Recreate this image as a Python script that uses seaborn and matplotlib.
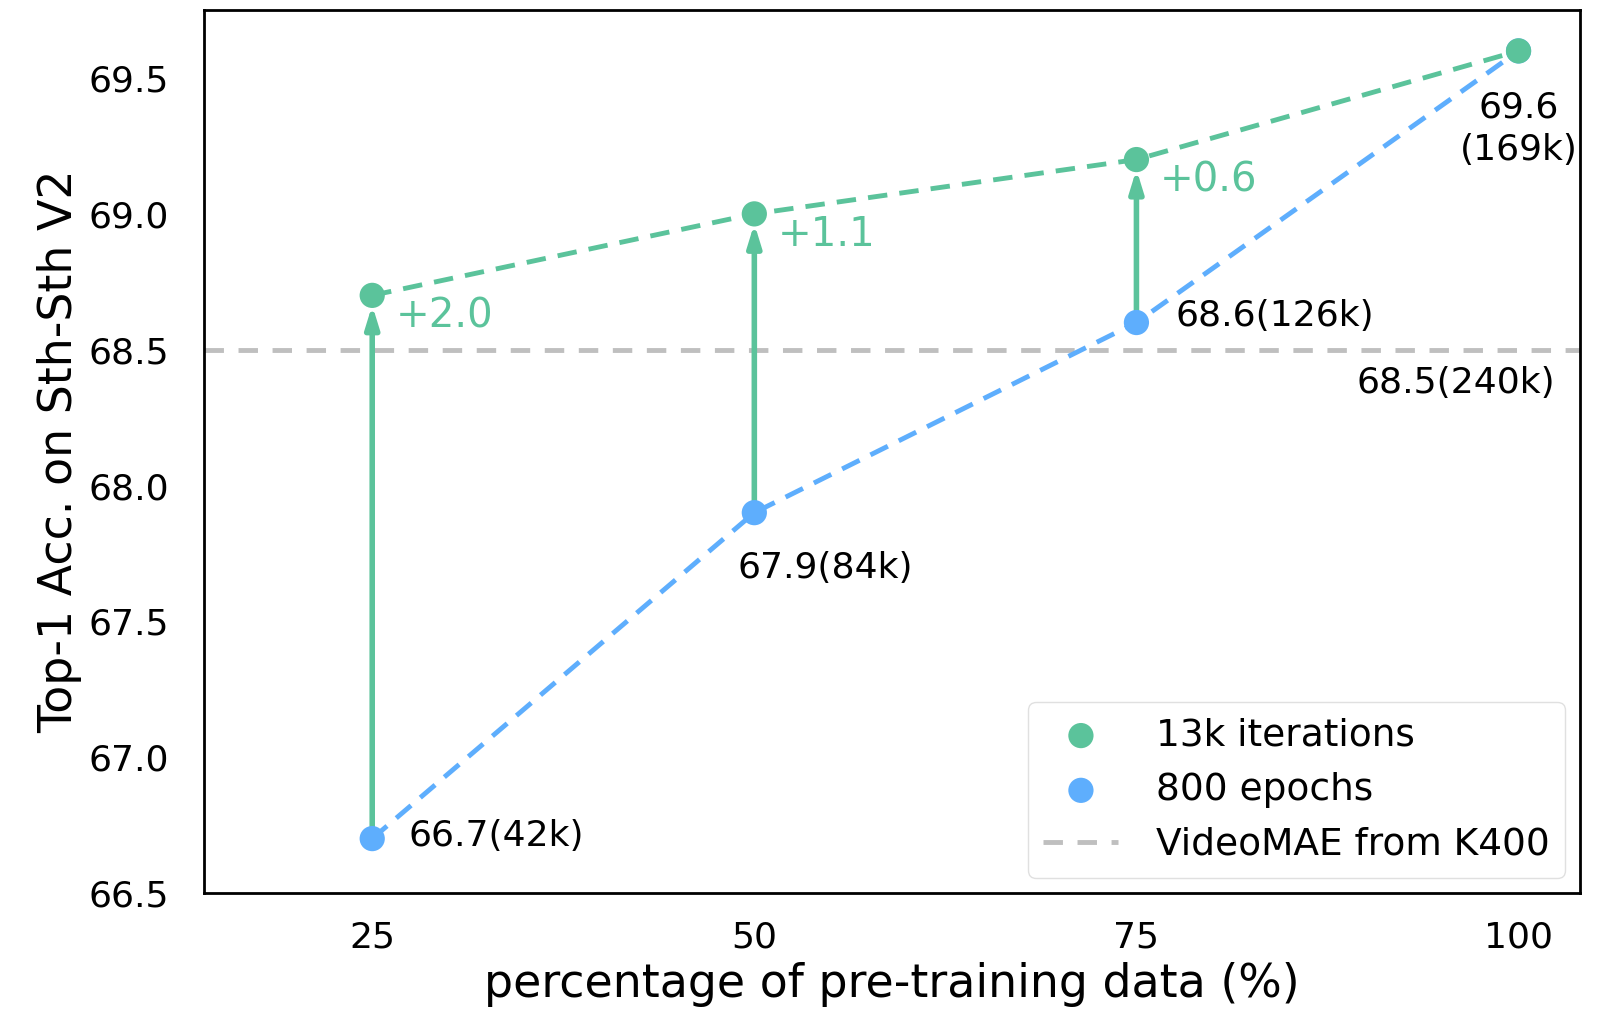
import matplotlib
matplotlib.use('Agg')
import matplotlib.pyplot as plt
import seaborn as sns
import pandas as pd

# data
pct = [25, 50, 75, 100]
acc_13k = [68.7, 69.0, 69.2, 69.6]
acc_800 = [66.7, 67.9, 68.6, 69.6]
iters_800 = ['42k', '84k', '126k', '169k']
gains = ['+2.0', '+1.1', '+0.6']
baseline = 68.5
baseline_label = '68.5(240k)'

green = '#5BC39B'
blue = '#5EAEFD'
grey = '#BFBFBF'

df_13k = pd.DataFrame({'pct': pct, 'acc': acc_13k})
df_800 = pd.DataFrame({'pct': pct, 'acc': acc_800})

sns.set_style('white')
plt.rcParams['font.family'] = ['DejaVu Sans']
plt.rcParams['text.color'] = 'black'
plt.rcParams['axes.labelcolor'] = 'black'
plt.rcParams['xtick.color'] = 'black'
plt.rcParams['ytick.color'] = 'black'

fig, ax = plt.subplots(figsize=(16.07, 10.17), dpi=100)

# baseline
ax.axhline(baseline, color=grey, ls='--', lw=3.5, dashes=(4, 3), label='VideoMAE from K400', zorder=1)

# dashed connecting lines
sns.lineplot(data=df_800, x='pct', y='acc', color=blue, linestyle='--', lw=3.5, ax=ax, zorder=2)
sns.lineplot(data=df_13k, x='pct', y='acc', color=green, linestyle='--', lw=3.5, ax=ax, zorder=2)
for l in ax.lines[1:]:
    l.set_dashes((4, 2.5))

# arrows from 800-epoch result to 13k-iteration result
for x, y0, y1 in zip(pct[:3], acc_800[:3], acc_13k[:3]):
    ax.annotate('', xy=(x, y1), xytext=(x, y0),
                arrowprops=dict(arrowstyle='-|>,head_length=1.3,head_width=0.4',
                                color=green, lw=4, shrinkA=0, shrinkB=7),
                zorder=3)

sns.scatterplot(data=df_800, x='pct', y='acc', color=blue, s=330, edgecolor='none',
                label='800 epochs', ax=ax, zorder=4)
sns.scatterplot(data=df_13k, x='pct', y='acc', color=green, s=330, edgecolor='none',
                label='13k iterations', ax=ax, zorder=5)

# value labels
fs = 26
ax.annotate(f'{acc_800[0]}({iters_800[0]})', (pct[0], acc_800[0]), xytext=(26, 2),
            textcoords='offset points', fontsize=fs, va='center', ha='left')
ax.annotate(f'{acc_800[1]}({iters_800[1]})', (pct[1], acc_800[1]), xytext=(-12, -40),
            textcoords='offset points', fontsize=fs, va='center', ha='left')
ax.annotate(f'{acc_800[2]}({iters_800[2]})', (pct[2], acc_800[2]), xytext=(28, 5),
            textcoords='offset points', fontsize=fs, va='center', ha='left')
ax.annotate(f'{acc_800[3]}\n({iters_800[3]})', (pct[3], acc_800[3]), xytext=(0, -56),
            textcoords='offset points', fontsize=fs, va='center', ha='center', linespacing=1.3)
ax.annotate(baseline_label, (102.4, baseline), xytext=(0, -24),
            textcoords='offset points', fontsize=fs, va='center', ha='right')

for x, y, g in zip(pct[:3], acc_13k[:3], gains):
    ax.annotate(g, (x, y), xytext=(17, -15), textcoords='offset points',
                fontsize=29, color=green, va='center', ha='left')

ax.set_xlim(14, 104)
ax.set_ylim(66.5, 69.75)
ax.set_xticks(pct)
ax.set_yticks([66.5, 67.0, 67.5, 68.0, 68.5, 69.0, 69.5])
ax.tick_params(axis='x', labelsize=26, pad=16)
ax.tick_params(axis='y', labelsize=26, pad=22)
ax.set_xlabel('percentage of pre-training data (%)', fontsize=33, labelpad=6)
ax.set_ylabel('Top-1 Acc. on Sth-Sth V2', fontsize=33, labelpad=4)
for s in ax.spines.values():
    s.set_color('black')
    s.set_linewidth(2)

h, lbl = ax.get_legend_handles_labels()
order = [lbl.index('13k iterations'), lbl.index('800 epochs'), lbl.index('VideoMAE from K400')]
ax.legend([h[i] for i in order], [lbl[i] for i in order], loc='lower right',
          fontsize=27, frameon=True, framealpha=1, edgecolor='#E0E0E0',
          borderpad=0.4, handlelength=2.0, handletextpad=1.0, labelspacing=0.5,
          borderaxespad=0.4)

plt.subplots_adjust(left=0.127, right=0.983, top=0.99, bottom=0.122)
plt.savefig('out.png', dpi=100)
